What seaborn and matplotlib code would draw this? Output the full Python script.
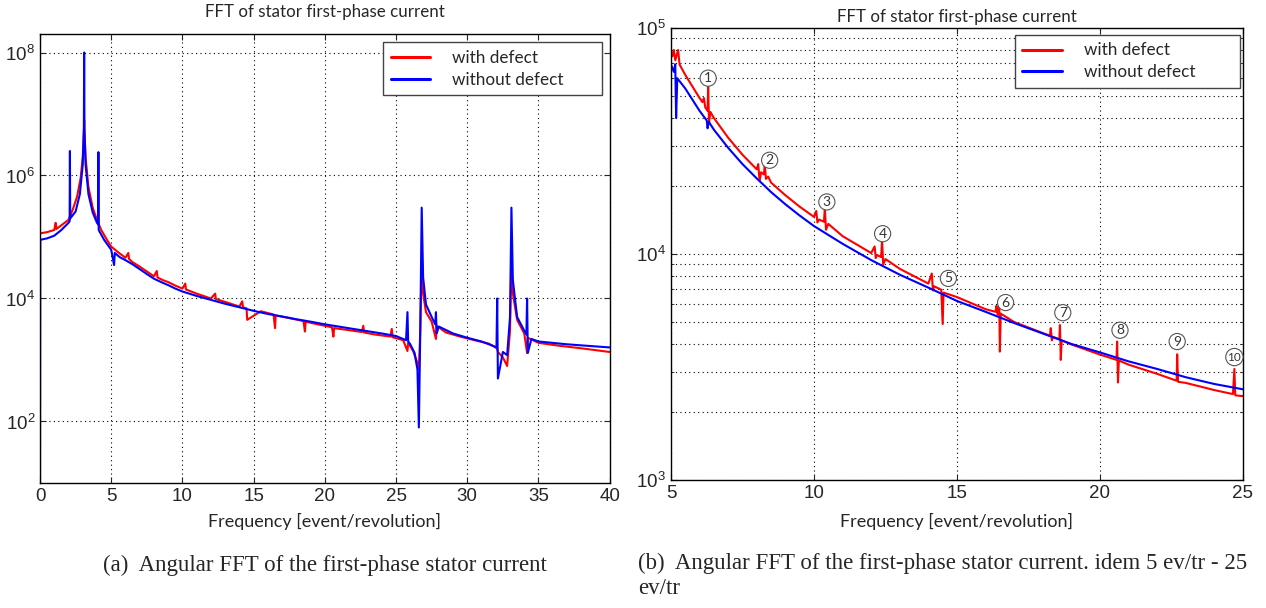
import matplotlib
matplotlib.use("Agg")
import matplotlib.pyplot as plt
import matplotlib.ticker as mticker
import numpy as np
import seaborn as sns

# ---- panel (a): full spectrum 0-40 ev/tr ----
freq_a_def = [0.0, 0.0, 0.05, 0.5, 1.0, 1.1, 1.15, 1.5, 2.0, 2.3, 2.6, 2.85, 3.0, 3.08, 3.1, 3.12, 3.2,
              3.4, 3.7, 4.0, 4.3, 4.7, 5.0, 5.5, 6.0, 6.2, 6.25, 6.5, 7.0, 7.5, 8.0, 8.2, 8.25, 8.6, 9.0,
              9.5, 10.0, 10.2, 10.25, 11.0, 12.0, 12.3, 12.35, 13.0, 14.0, 14.2, 14.25, 14.5, 14.55, 15.5,
              16.4, 16.5, 16.55, 17.5, 18.5, 18.6, 18.65, 19.5, 20.5, 20.6, 20.65, 21.5, 22.6, 22.7,
              22.75, 23.5, 24.6, 24.7, 24.75, 25.5, 25.8, 25.85, 26.2, 26.5, 26.6, 26.7, 26.8, 26.9,
              27.1, 27.5, 27.8, 27.85, 28.5, 29.5, 30.5, 31.5, 32.0, 32.1, 32.15, 32.5, 32.8, 33.0,
              33.1, 33.2, 33.5, 34.0, 34.2, 34.25, 35.0, 36.5, 38.0, 40.0]
mag_a_def = [3.0e5, 1.1e5, 1.15e5, 1.2e5, 1.3e5, 1.7e5, 1.35e5, 1.55e5, 1.9e5, 2.8e5, 4.5e5, 9e5, 2.0e6,
             5e6, 8e6, 5e6, 2.0e6, 6.5e5, 3.0e5, 1.9e5, 1.3e5, 9e4, 7.0e4, 5.6e4, 4.6e4, 5.5e4, 4.4e4,
             3.9e4, 3.3e4, 2.75e4, 2.3e4, 2.8e4, 2.2e4, 2.0e4, 1.85e4, 1.62e4, 1.45e4, 1.75e4, 1.4e4,
             1.2e4, 1.0e4, 1.2e4, 9.8e3, 8.8e3, 7.4e3, 9e3, 7.2e3, 6.9e3, 4.5e3, 6.2e3, 5.5e3, 3.3e3,
             5.3e3, 4.8e3, 4.3e3, 2.9e3, 4.2e3, 3.8e3, 3.4e3, 2.4e3, 3.3e3, 3.1e3, 2.85e3, 3.6e3, 2.8e3,
             2.6e3, 2.4e3, 3.2e3, 2.35e3, 2.1e3, 1.4e3, 1.9e3, 1.4e3, 900, 700, 3.0e3, 4.0e4, 1.2e4,
             6e3, 4.2e3, 2.2e3, 3.6e3, 2.8e3, 2.4e3, 2.1e3, 1.85e3, 1.6e3, 1.5e3, 1.35e3, 1.1e3, 800,
             3.0e3, 3.5e4, 1.2e4, 4.5e3, 2.7e3, 1.3e3, 2.3e3, 1.9e3, 1.7e3, 1.55e3, 1.35e3]

freq_a_ref = [0.0, 0.02, 0.5, 1.0, 1.5, 2.0, 2.08, 2.1, 2.12, 2.5, 2.8, 3.0, 3.08, 3.1, 3.12, 3.2, 3.4,
              3.7, 4.0, 4.08, 4.1, 4.12, 4.5, 5.0, 5.2, 5.25, 5.6, 6.0, 6.5, 7.0, 7.5, 8.0, 8.5, 9.0, 9.5,
              10.0, 11.0, 12.0, 13.0, 14.0, 15.0, 16.0, 17.0, 18.0, 19.0, 20.0, 22.0, 24.0, 25.0, 25.7,
              25.8, 25.85, 26.0, 26.3, 26.5, 26.6, 26.7, 26.8, 26.9, 27.1, 27.5, 27.75, 27.8, 27.85, 28.0,
              29.0, 30.0, 31.0, 31.8, 32.05, 32.1, 32.15, 32.5, 32.8, 33.0, 33.1, 33.2, 33.5, 34.0, 34.15,
              34.2, 34.25, 34.5, 35.0, 37.0, 40.0]
mag_a_ref = [10, 9.0e4, 9.5e4, 1.05e5, 1.3e5, 1.7e5, 1.8e5, 2.5e6, 2.0e5, 2.6e5, 5e5, 1.5e6, 6e6, 1.0e8,
             6e6, 1.5e6, 5e5, 2.5e5, 1.7e5, 1.6e5, 2.4e6, 1.3e5, 9e4, 6.2e4, 3.5e4, 5.5e4, 4.7e4, 4.2e4,
             3.6e4, 3.0e4, 2.5e4, 2.1e4, 1.85e4, 1.65e4, 1.45e4, 1.3e4, 1.1e4, 9.5e3, 8.2e3, 7.2e3,
             6.3e3, 5.6e3, 5.1e3, 4.6e3, 4.2e3, 3.8e3, 3.2e3, 2.7e3, 2.45e3, 2.1e3, 6.0e3, 2.0e3, 1.8e3,
             1.3e3, 700, 80, 3.0e3, 3.0e5, 2.2e4, 8e3, 5e3, 3.8e3, 6.0e3, 2.7e3, 3.5e3, 2.7e3, 2.3e3,
             2.0e3, 1.7e3, 1.6e3, 1.0e4, 500, 1.35e3, 1.2e3, 5e3, 3.0e5, 2.0e4, 5e3, 3.0e3, 2.6e3, 1.0e4,
             1.3e3, 2.2e3, 2.0e3, 1.8e3, 1.6e3]

# ---- panel (b): zoom 5-25 ev/tr ----
freq_b_def = [5.0, 5.05, 5.1, 5.15, 5.25, 5.3, 5.5, 6.0, 6.1, 6.15, 6.2, 6.28, 6.3, 6.33, 6.38, 6.5,
              7.0, 7.5, 8.0, 8.05, 8.1, 8.15, 8.25, 8.28, 8.32, 8.4, 8.5, 9.0, 9.5, 10.0, 10.08, 10.12,
              10.18, 10.35, 10.38, 10.42, 10.5, 11.0, 12.0, 12.12, 12.16, 12.2, 12.35, 12.38, 12.42, 12.5,
              13.0, 14.0, 14.12, 14.16, 14.2, 14.45, 14.5, 14.53, 15.0, 16.0, 16.35, 16.38, 16.42, 16.48,
              16.5, 16.53, 17.0, 18.0, 18.25, 18.28, 18.32, 18.36, 18.58, 18.6, 18.63, 18.66, 19.0, 20.0,
              20.58, 20.6, 20.63, 20.66, 21.0, 22.0, 22.68, 22.7, 22.73, 23.0, 24.0, 24.65, 24.7, 24.73,
              25.0]
mag_b_def = [7.9e4, 7.5e4, 8.0e4, 7.2e4, 8.0e4, 6.9e4, 6.2e4, 4.9e4, 4.7e4, 4.9e4, 4.45e4, 4.3e4,
             5.5e4, 3.8e4, 4.25e4, 4.0e4, 3.27e4, 2.75e4, 2.37e4, 2.5e4, 2.1e4, 2.3e4, 2.25e4, 2.5e4,
             2.15e4, 2.2e4, 2.07e4, 1.82e4, 1.62e4, 1.46e4, 1.55e4, 1.38e4, 1.42e4, 1.39e4, 1.6e4,
             1.28e4, 1.36e4, 1.2e4, 1.01e4, 1.08e4, 9.6e3, 9.9e3, 9.7e3, 1.16e4, 9.0e3, 9.5e3, 8.6e3,
             7.4e3, 8.2e3, 6.9e3, 7.2e3, 6.95e3, 4.9e3, 6.75e3, 6.45e3, 5.7e3, 5.55e3, 5.9e3, 5.4e3,
             5.8e3, 3.7e3, 5.45e3, 5.0e3, 4.47e3, 4.35e3, 4.7e3, 4.15e3, 4.3e3, 4.2e3, 4.85e3, 3.4e3,
             4.15e3, 3.98e3, 3.59e3, 3.4e3, 4.1e3, 2.7e3, 3.38e3, 3.24e3, 2.95e3, 2.75e3, 3.6e3, 2.72e3,
             2.69e3, 2.5e3, 2.4e3, 3.1e3, 2.37e3, 2.35e3]

freq_b_ref = [5.0, 5.1, 5.15, 5.18, 5.22, 5.5, 6.0, 6.25, 6.28, 6.32, 6.5, 7.0, 7.5, 8.0, 8.5, 9.0, 9.5,
              10.0, 11.0, 12.0, 13.0, 14.0, 15.0, 16.0, 17.0, 18.0, 19.0, 20.0, 21.0, 22.0, 23.0, 24.0,
              25.0]
mag_b_ref = [6.9e4, 6.4e4, 6.9e4, 4.0e4, 6.0e4, 5.4e4, 4.3e4, 3.9e4, 3.6e4, 3.85e4, 3.55e4, 2.95e4,
             2.5e4, 2.16e4, 1.88e4, 1.66e4, 1.48e4, 1.33e4, 1.11e4, 9.4e3, 8.1e3, 7.1e3, 6.2e3, 5.55e3,
             4.95e3, 4.45e3, 4.0e3, 3.67e3, 3.35e3, 3.1e3, 2.85e3, 2.66e3, 2.52e3]

# circled harmonic markers
mark_labels = ["1", "2", "3", "4", "5", "6", "7", "8", "9", "10"]
mark_x = [6.3, 8.45, 10.45, 12.4, 14.7, 16.7, 18.7, 20.7, 22.7, 24.7]
mark_y = [6.0e4, 2.6e4, 1.7e4, 1.23e4, 7.8e3, 6.1e3, 5.5e3, 4.6e3, 4.1e3, 3.5e3]

title = "FFT of stator first-phase current"
xlab = "Frequency [event/revolution]"
cap_a = "(a)  Angular FFT of the first-phase stator current"
cap_b = "(b)  Angular FFT of the first-phase stator current. idem 5 ev/tr - 25\nev/tr"

sns.set_style("ticks")
plt.rcParams["font.family"] = ["Liberation Sans", "DejaVu Sans"]
txt_font = ["Lato", "DejaVu Sans"]

fig = plt.figure(figsize=(12.66, 6.08), dpi=100)
ax1 = fig.add_axes([0.0316, 0.2056, 0.450, 0.7385])
ax2 = fig.add_axes([0.530, 0.2105, 0.4518, 0.7434])


def draw(ax, fx_d, my_d, fx_r, my_r, leg_box, tpad, lpad):
    sns.lineplot(x=fx_d, y=my_d, ax=ax, color="#ff0000", lw=1.5, sort=False, estimator=None,
                 label="with defect")
    sns.lineplot(x=fx_r, y=my_r, ax=ax, color="#0000ff", lw=1.5, sort=False, estimator=None,
                 label="without defect")
    ax.set_yscale("log")
    ax.set_title(title, fontsize=12.2, family=txt_font, pad=tpad)
    ax.set_xlabel(xlab, fontsize=13, family=txt_font, labelpad=lpad)
    ax.set_ylabel("")
    ax.tick_params(direction="in", top=True, right=True, labelsize=13.5, length=4)
    ax.tick_params(which="minor", direction="in", top=True, right=True, length=2)
    for s in ax.spines.values():
        s.set_linewidth(1.0)
        s.set_color("black")
    leg = ax.legend(loc="upper left", bbox_to_anchor=leg_box, mode="expand", handlelength=2.3,
                    handletextpad=1.3, fancybox=False, edgecolor="#444444", framealpha=1,
                    borderpad=0.45, borderaxespad=0, labelspacing=0.35,
                    prop={"family": txt_font, "size": 12.3})
    leg.get_frame().set_linewidth(1.0)
    for h in leg.get_lines():
        h.set_linewidth(2.2)


draw(ax1, freq_a_def, mag_a_def, freq_a_ref, mag_a_ref, (0.602, 0.0, 0.384, 0.982), 12, 6)
ax1.set_xlim(0, 40)
ax1.set_ylim(10, 2e8)
ax1.set_xticks(range(0, 41, 5))
ax1.set_yticks([1e2, 1e4, 1e6, 1e8])
ax1.yaxis.set_minor_locator(mticker.NullLocator())
ax1.grid(True, which="major", ls=(0, (1, 3)), color="black", lw=0.8)

draw(ax2, freq_b_def, mag_b_def, freq_b_ref, mag_b_ref, (0.601, 0.0, 0.393, 0.985), 4.5, 8)
ax2.set_xlim(5, 25)
ax2.set_ylim(1e3, 1e5)
ax2.set_xticks(range(5, 26, 5))
ax2.set_yticks([1e3, 1e4, 1e5])
ax2.yaxis.set_minor_locator(mticker.LogLocator(base=10, subs=range(2, 10)))
ax2.yaxis.set_minor_formatter(mticker.NullFormatter())
ax2.grid(True, which="major", ls=(0, (1, 3)), color="black", lw=0.8)
ax2.grid(True, which="minor", axis="y", ls=(0, (1, 3)), color="black", lw=0.8)

for lab, mx, my in zip(mark_labels, mark_x, mark_y):
    ax2.text(mx, my, lab, fontsize=10 if len(lab) == 1 else 8.5, ha="center", va="center",
             family=txt_font, color="#333333",
             bbox=dict(boxstyle="circle,pad=0.15", fc="white", ec="#555555", lw=0.8))

fig.text(0.257, 1 - 565 / 608, cap_a, ha="center", va="center", fontsize=16.5,
         family=["Liberation Serif"])
fig.text(0.504, 1 - 553 / 608, cap_b, ha="left", va="top", fontsize=16.5,
         family=["Liberation Serif"], linespacing=1.22)

fig.savefig("out.png", dpi=100)
